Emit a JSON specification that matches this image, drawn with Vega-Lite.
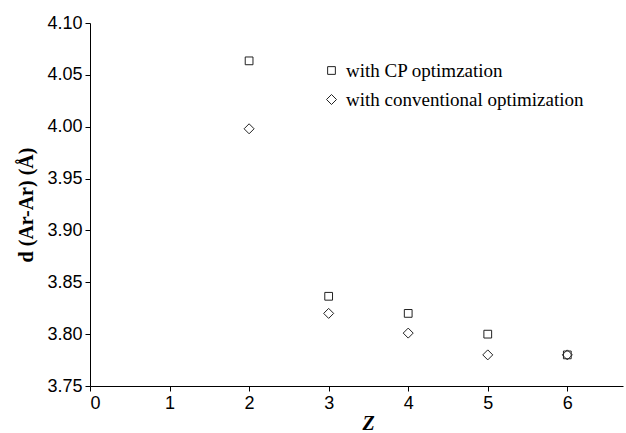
{
  "$schema": "https://vega.github.io/schema/vega-lite/v6.json",
  "autosize": {"type": "none"},
  "padding": {"left": 90, "top": 23, "right": 3, "bottom": 47},
  "width": 533,
  "height": 363,
  "background": "white",
  "config": {
    "view": {"stroke": null},
    "axis": {
      "grid": false,
      "domainColor": "black",
      "tickColor": "black",
      "tickSize": 5,
      "labelFont": "Liberation Sans",
      "labelFontSize": 18,
      "labelColor": "black",
      "titleColor": "black",
      "titleFont": "Liberation Serif",
      "titleFontWeight": "bold",
      "titleFontSize": 20
    }
  },
  "data": {
    "values": [
      {"z": 2, "d": 4.0635, "series": "with CP optimzation"},
      {"z": 3, "d": 3.8365, "series": "with CP optimzation"},
      {"z": 4, "d": 3.820, "series": "with CP optimzation"},
      {"z": 5, "d": 3.800, "series": "with CP optimzation"},
      {"z": 6, "d": 3.780, "series": "with CP optimzation"},
      {"z": 2, "d": 3.998, "series": "with conventional optimization"},
      {"z": 3, "d": 3.820, "series": "with conventional optimization"},
      {"z": 4, "d": 3.801, "series": "with conventional optimization"},
      {"z": 5, "d": 3.780, "series": "with conventional optimization"},
      {"z": 6, "d": 3.780, "series": "with conventional optimization"}
    ]
  },
  "mark": {"type": "point", "filled": false, "color": "#222", "strokeWidth": 1, "opacity": 1},
  "encoding": {
    "x": {
      "field": "z", "type": "quantitative",
      "scale": {"domain": [0, 6.7], "nice": false, "zero": false},
      "axis": {
        "values": [0, 1, 2, 3, 4, 5, 6],
        "format": "d",
        "labelPadding": 3,
        "title": "Z",
        "titleFontStyle": "italic",
        "titleX": 278,
        "titleY": 43,
        "titleBaseline": "alphabetic",
        "titleAnchor": "middle"
      }
    },
    "y": {
      "field": "d", "type": "quantitative",
      "scale": {"domain": [3.75, 4.10], "nice": false, "zero": false},
      "axis": {
        "values": [3.75, 3.8, 3.85, 3.9, 3.95, 4.0, 4.05, 4.1],
        "format": ".2f",
        "labelPadding": 3,
        "title": "d (Ar-Ar) (Å)",
        "titlePadding": 10
      }
    },
    "shape": {
      "field": "series", "type": "nominal",
      "scale": {"domain": ["with CP optimzation", "with conventional optimization"], "range": ["square", "diamond"]},
      "legend": {
        "title": null,
        "orient": "none",
        "legendX": 232,
        "legendY": 38,
        "labelFont": "Liberation Serif",
        "labelFontSize": 19,
        "labelColor": "black",
        "labelOffset": 5,
        "labelLimit": 400,
        "rowPadding": 9,
        "symbolStrokeColor": "#222",
        "symbolStrokeWidth": 1,
        "symbolFillColor": "white"
      }
    },
    "size": {
      "field": "series", "type": "nominal",
      "scale": {"domain": ["with CP optimzation", "with conventional optimization"], "range": [60, 100]},
      "legend": {
        "title": null,
        "orient": "none",
        "legendX": 232,
        "legendY": 38,
        "labelFont": "Liberation Serif",
        "labelFontSize": 19,
        "labelColor": "black",
        "labelOffset": 5,
        "labelLimit": 400,
        "rowPadding": 9,
        "symbolStrokeColor": "#222",
        "symbolStrokeWidth": 1,
        "symbolFillColor": "white"
      }
    }
  }
}
